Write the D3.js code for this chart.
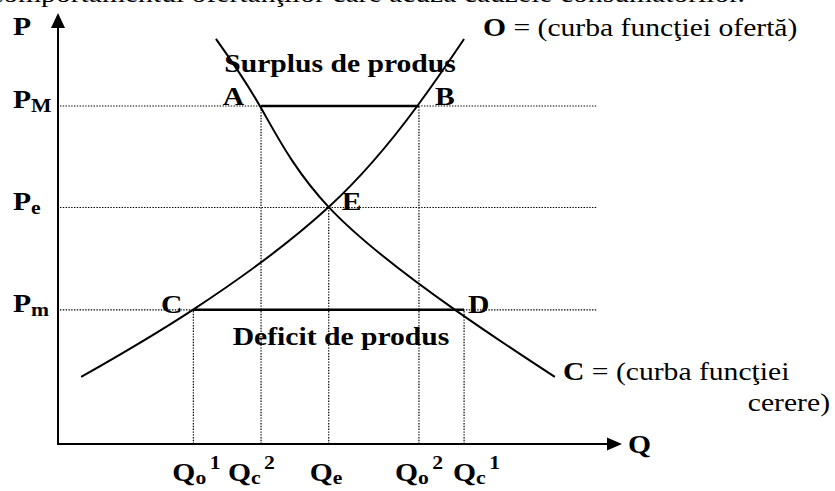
<!DOCTYPE html>
<html>
<head>
    <meta charset="utf-8">
    <title>Cerere si oferta</title>
    <style>
        body { margin: 0; background: #fff; }
        text { font-family: "Liberation Serif", "Times New Roman", serif; fill: #000; }
    </style>
</head>
<body>
    <script src="https://d3js.org/d3.v7.min.js"></script>
    <script>
    // price levels: P_M, P_e, P_m
    var priceNames = ["M", "e", "m"];
    var priceValues = [78.6, 55, 31.2];

    // quantities on the Q axis
    var qBase = ["o", "c", "e", "o", "c"];
    var qSup = ["1", "2", "", "2", "1"];
    var qValues = [24, 36, 48, 64, 72];

    // supply curve O
    var supplyQ = [4.1, 23.9, 48, 63.7, 72];
    var supplyP = [15.6, 31.2, 55.1, 78.6, 94.2];

    // demand curve C
    var demandQ = [28, 35.8, 48, 70.4, 88.1];
    var demandP = [94.2, 78.6, 55.1, 31.2, 15.6];

    const W = 835, H = 491;
    const sx = 1.14; // the picture is stretched sideways
    const fs = 26;

    const svg = d3.select("body").append("svg")
        .attr("width", W).attr("height", H);

    const x = d3.scaleLinear().domain([0, 100]).range([58, 622]);
    const y = d3.scaleLinear().domain([0, 100]).range([444, 14]);

    function label(px, py, anchor) {
        return svg.append("text")
            .attr("transform", "translate(" + px + "," + py + ") scale(" + sx + ",1)")
            .attr("text-anchor", anchor || "start")
            .style("font-size", fs + "px");
    }

    // top line of text, cut by the picture edge
    label(745, 2, "end").text("comportamentul ofertanţilor care acuză cauzele consumatorilor.");

    // dotted guide lines
    const dotted = svg.append("g")
        .attr("stroke", "#000").attr("stroke-width", 1.2)
        .attr("stroke-dasharray", "1.4,1.4").attr("fill", "none");

    priceValues.forEach(function(p) {
        dotted.append("line")
            .attr("x1", x(0) + 2).attr("x2", x(95.6))
            .attr("y1", y(p)).attr("y2", y(p));
    });
    var qTop = [priceValues[2], priceValues[0], priceValues[1], priceValues[0], priceValues[2]];
    qValues.forEach(function(q, i) {
        dotted.append("line")
            .attr("x1", x(q)).attr("x2", x(q))
            .attr("y1", y(0)).attr("y2", y(qTop[i]));
    });

    // axes with arrows
    svg.append("line").attr("x1", x(0)).attr("x2", x(0))
        .attr("y1", y(0) + 1).attr("y2", y(100) + 12)
        .attr("stroke", "#000").attr("stroke-width", 2);
    svg.append("line").attr("x1", x(0) - 1).attr("x2", x(100) - 14)
        .attr("y1", y(0)).attr("y2", y(0))
        .attr("stroke", "#000").attr("stroke-width", 2);
    svg.append("path")
        .attr("d", "M" + x(0) + "," + (y(100) - 1) + " l7,15 l-14,0 z");
    svg.append("path")
        .attr("d", "M" + x(100) + "," + y(0) + " l-15,-6.5 l0,13 z");

    // surplus and deficit segments
    svg.append("line")
        .attr("x1", x(qValues[1])).attr("x2", x(qValues[3]))
        .attr("y1", y(priceValues[0])).attr("y2", y(priceValues[0]))
        .attr("stroke", "#000").attr("stroke-width", 2.5);
    svg.append("line")
        .attr("x1", x(qValues[0])).attr("x2", x(qValues[4]))
        .attr("y1", y(priceValues[2])).attr("y2", y(priceValues[2]))
        .attr("stroke", "#000").attr("stroke-width", 2.5);

    // curves
    var line = d3.line()
        .x(function(d) { return x(d[0]); })
        .y(function(d) { return y(d[1]); })
        .curve(d3.curveNatural);

    svg.append("path")
        .attr("d", line(d3.zip(supplyQ, supplyP)))
        .attr("fill", "none").attr("stroke", "#000").attr("stroke-width", 2);
    svg.append("path")
        .attr("d", line(d3.zip(demandQ, demandP)))
        .attr("fill", "none").attr("stroke", "#000").attr("stroke-width", 2);

    // P axis labels
    label(13, 35).style("font-weight", "bold").text("P");
    priceNames.forEach(function(n, i) {
        var t = label(13, y(priceValues[i]) + 2).style("font-weight", "bold");
        t.append("tspan").text("P");
        t.append("tspan").attr("dy", 4).style("font-size", "19px").text(n);
    });

    // Q axis labels
    var qShift = [-21, -33, -19, -24, -11];
    qValues.forEach(function(q, i) {
        var t = label(x(q) + qShift[i], 481).style("font-weight", "bold");
        t.append("tspan").text("Q");
        t.append("tspan").attr("dy", 3).style("font-size", "19px").text(qBase[i]);
        if (qSup[i]) {
            t.append("tspan").attr("dy", -15).attr("dx", 3)
                .style("font-size", "19px").text(qSup[i]);
        }
    });
    label(x(100) + 6, y(0) + 9).style("font-weight", "bold").text("Q");

    // point labels
    label(x(qValues[1]) - 17, y(priceValues[0]) - 1, "end").style("font-weight", "bold").text("A");
    label(x(qValues[3]) + 16, y(priceValues[0]) - 1).style("font-weight", "bold").text("B");
    label(x(qValues[2]) + 13, y(priceValues[1]) + 2).style("font-weight", "bold").text("E");
    label(x(qValues[0]) - 11, y(priceValues[2]) + 3, "end").style("font-weight", "bold").text("C");
    label(x(qValues[4]) + 4, y(priceValues[2]) + 3).style("font-weight", "bold").text("D");

    // area captions
    label(340, 72, "middle").style("font-weight", "bold").text("Surplus de produs");
    label(341, 345, "middle").style("font-weight", "bold").text("Deficit de produs");

    // curve captions
    var o = label(483, 36);
    o.append("tspan").style("font-weight", "bold").text("O");
    o.append("tspan").text(" = (curba funcţiei ofertă)");
    var c = label(563, 380);
    c.append("tspan").style("font-weight", "bold").text("C");
    c.append("tspan").text(" = (curba funcţiei");
    label(830, 411, "end").text("cerere)");
    </script>
</body>
</html>
